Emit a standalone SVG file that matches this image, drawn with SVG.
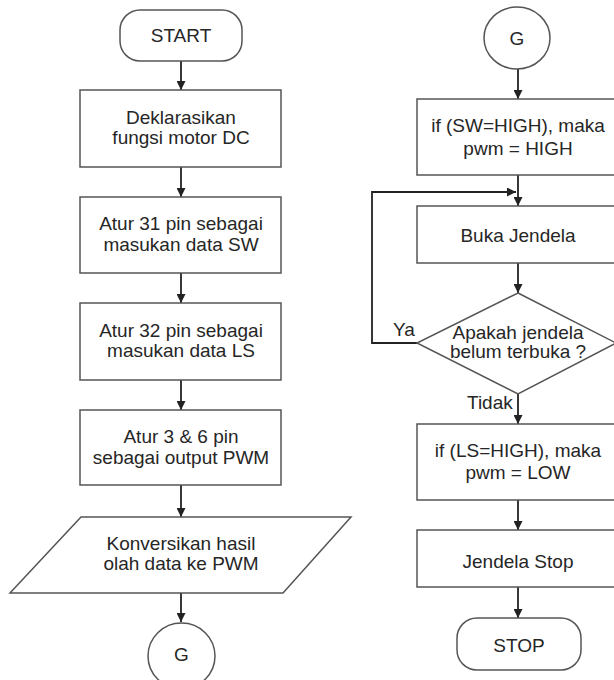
<svg xmlns="http://www.w3.org/2000/svg" width="614" height="680" viewBox="0 0 614 680">
  <style>
    .shape { fill: #ffffff; stroke: #555555; stroke-width: 1.5; }
    .conn { fill: none; stroke: #222222; stroke-width: 1.8; }
    text { font-family: "Liberation Sans", Arial, sans-serif; font-size: 19px; fill: #262626; text-anchor: middle; }
    .lbl { text-anchor: start; }
  </style>
  <defs>
    <marker id="arrow" viewBox="0 0 10 10" refX="10" refY="5" markerWidth="9" markerHeight="9" markerUnits="userSpaceOnUse" orient="auto">
      <path d="M0,0 L10,5 L0,10 Z" fill="#222222"/>
    </marker>
  </defs>
  <rect width="614" height="680" fill="#ffffff"/>

  <!-- connectors -->
  <g id="connectors">
    <line class="conn" x1="181" y1="61" x2="181" y2="90" marker-end="url(#arrow)"/>
    <line class="conn" x1="181" y1="167" x2="181" y2="197" marker-end="url(#arrow)"/>
    <line class="conn" x1="181" y1="273" x2="181" y2="303" marker-end="url(#arrow)"/>
    <line class="conn" x1="181" y1="380" x2="181" y2="410" marker-end="url(#arrow)"/>
    <line class="conn" x1="181" y1="485" x2="181" y2="517" marker-end="url(#arrow)"/>
    <line class="conn" x1="181" y1="593" x2="181" y2="622" marker-end="url(#arrow)"/>

    <line class="conn" x1="518" y1="69" x2="518" y2="99" marker-end="url(#arrow)"/>
    <line class="conn" x1="518" y1="175" x2="518" y2="206" marker-end="url(#arrow)"/>
    <path class="conn" d="M417,343 H372 V192 H516" marker-end="url(#arrow)"/>
    <line class="conn" x1="518" y1="263" x2="518" y2="293" marker-end="url(#arrow)"/>
    <line class="conn" x1="518" y1="394" x2="518" y2="424" marker-end="url(#arrow)"/>
    <line class="conn" x1="518" y1="500" x2="518" y2="530" marker-end="url(#arrow)"/>
    <line class="conn" x1="518" y1="587" x2="518" y2="618" marker-end="url(#arrow)"/>
    <text class="lbl" x="393" y="336">Ya</text>
    <text class="lbl" x="467" y="409">Tidak</text>
  </g>

  <!-- left column -->
  <g id="start">
    <rect class="shape" x="120" y="10" width="122" height="51" rx="20" ry="20"/>
    <text x="181" y="42">START</text>
  </g>
  <g id="deklarasi">
    <rect class="shape" x="80" y="90" width="201" height="77"/>
    <text x="181" y="124">Deklarasikan</text>
    <text x="181" y="144">fungsi motor DC</text>
  </g>
  <g id="pin31">
    <rect class="shape" x="80" y="197" width="201" height="76"/>
    <text x="181" y="230">Atur 31 pin sebagai</text>
    <text x="181" y="251">masukan data SW</text>
  </g>
  <g id="pin32">
    <rect class="shape" x="80" y="303" width="201" height="77"/>
    <text x="181" y="337">Atur 32 pin sebagai</text>
    <text x="181" y="357">masukan data LS</text>
  </g>
  <g id="pin36">
    <rect class="shape" x="80" y="410" width="201" height="75"/>
    <text x="181" y="443">Atur 3 &amp; 6 pin</text>
    <text x="181" y="464">sebagai output PWM</text>
  </g>
  <g id="konversi">
    <polygon class="shape" points="81,517 351,517 283,593 10,593"/>
    <text x="181" y="550">Konversikan hasil</text>
    <text x="181" y="570">olah data ke PWM</text>
  </g>
  <g id="g-out">
    <ellipse class="shape" cx="181.5" cy="656" rx="33.5" ry="33"/>
    <text x="181.5" y="661">G</text>
  </g>

  <!-- right column -->
  <g id="g-in">
    <ellipse class="shape" cx="517" cy="38" rx="33" ry="31"/>
    <text x="517" y="45">G</text>
  </g>
  <g id="sw-high">
    <rect class="shape" x="417" y="99" width="203" height="76"/>
    <text x="518" y="132">if (SW=HIGH), maka</text>
    <text x="518" y="155">pwm = HIGH</text>
  </g>
  <g id="buka">
    <rect class="shape" x="417" y="206" width="203" height="57"/>
    <text x="518" y="242">Buka Jendela</text>
  </g>
  <g id="cek">
    <polygon class="shape" points="518,293 616,343 518,394 417,343"/>
    <text x="518" y="339">Apakah jendela</text>
    <text x="518" y="358">belum terbuka ?</text>
  </g>
  <g id="ls-high">
    <rect class="shape" x="417" y="424" width="203" height="76"/>
    <text x="518" y="457">if (LS=HIGH), maka</text>
    <text x="518" y="479">pwm = LOW</text>
  </g>
  <g id="stop-jendela">
    <rect class="shape" x="417" y="530" width="203" height="57"/>
    <text x="518" y="568">Jendela Stop</text>
  </g>
  <g id="stop">
    <rect class="shape" x="457" y="618" width="124" height="52" rx="20" ry="20"/>
    <text x="519" y="652">STOP</text>
  </g>
</svg>
